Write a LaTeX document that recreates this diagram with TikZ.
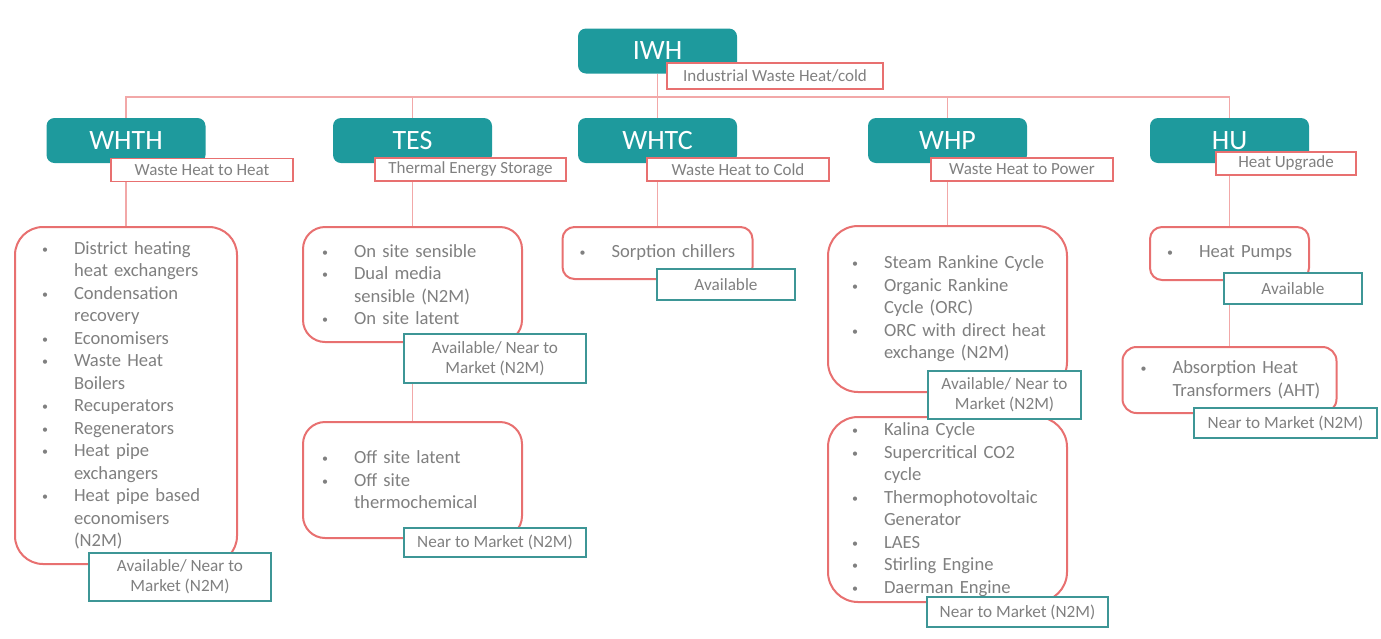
\documentclass[tikz,border=0pt]{standalone}
\usepackage{fontspec}
\setmainfont{Carlito}
\usetikzlibrary{backgrounds}

\definecolor{whteal}{HTML}{1E9A9D}
\definecolor{lred}{HTML}{E87070}
\definecolor{pline}{HTML}{F2A8A8}
\definecolor{steal}{HTML}{3D9696}
\definecolor{txtgray}{HTML}{808080}

% bullet item and continuation line
\newcommand{\bl}[1]{\makebox[16pt][l]{\raisebox{0.5pt}{\fontsize{6}{6}\selectfont\textbullet}}\mbox{#1}}
\newcommand{\ct}[1]{\hspace*{16pt}\mbox{#1}}

\begin{document}
\begin{tikzpicture}[
    x=0.5pt, y=-0.5pt,
    cat/.style={fill=whteal,rounded corners=4pt,text=white,inner sep=0pt,
      minimum width=79.5pt,minimum height=22.5pt,font=\fontsize{14}{16}\selectfont},
    lbl/.style={draw=lred,line width=0.75pt,fill=white,text=txtgray,inner sep=0pt,
      minimum height=11.5pt,font=\fontsize{8.5}{10}\selectfont},
    items/.style={draw=lred,line width=1pt,fill=white,text=txtgray,inner ysep=0pt,
      align=left,font=\fontsize{9.3}{11.25}\selectfont},
    stat/.style={draw=steal,line width=0.75pt,fill=white,text=txtgray,inner sep=0pt,
      minimum width=91pt,align=center,font=\fontsize{8.6}{10}\selectfont},
    conn/.style={draw=pline,line width=0.6pt},
  ]
  \useasboundingbox (0,0) rectangle (1381,638);

  % top level
  \node[cat] (iwh) at (657.5,51) {IWH};
  \node[lbl,minimum width=108pt,minimum height=13pt] (iwhlbl) at (775,76) {Industrial Waste Heat/cold};

  % categories
  \node[cat] (whth) at (126,140.5) {WHTH};
  \node[cat] (tes) at (412.5,140.5) {TES};
  \node[cat] (whtc) at (657.5,140.5) {WHTC};
  \node[cat] (whp) at (947.5,140.5) {WHP};
  \node[cat] (hu) at (1229.5,140.5) {HU};

  \node[lbl,minimum width=91pt] (whthlbl) at (202,170) {Waste Heat to Heat};
  \node[lbl,minimum width=95.5pt] (teslbl) at (470.5,169.5) {Thermal Energy Storage};
  \node[lbl,minimum width=91pt] (whtclbl) at (738,169.5) {Waste Heat to Cold};
  \node[lbl,minimum width=91pt] (whplbl) at (1022,169.5) {Waste Heat to Power};
  \node[lbl,minimum width=70pt] (hulbl) at (1286,163.5) {Heat Upgrade};

  % technologies
  \node[items,rounded corners=14pt,inner xsep=13.5pt,text width=84pt,minimum height=168.5pt]
    (whthitems) at (126,395.5) {\bl{District heating}\\ \ct{heat exchangers}\\ \bl{Condensation}\\
    \ct{recovery}\\ \bl{Economisers}\\ \bl{Waste Heat}\\ \ct{Boilers}\\ \bl{Recuperators}\\
    \bl{Regenerators}\\ \bl{Heat pipe}\\ \ct{exchangers}\\ \bl{Heat pipe based}\\
    \ct{economisers}\\ \ct{(N2M)}};
  \node[items,rounded corners=11pt,inner xsep=9.5pt,text width=90.5pt,minimum height=57.5pt]
    (tesa) at (412.5,284.5) {\bl{On site sensible}\\ \bl{Dual media}\\ \ct{sensible (N2M)}\\ \bl{On site latent}};
  \node[items,rounded corners=11pt,inner xsep=9.5pt,text width=90.5pt,minimum height=58pt]
    (tesb) at (412.5,480) {\bl{Off site latent}\\ \bl{Off site}\\ \ct{thermochemical}};
  \node[items,rounded corners=6pt,inner xsep=8.5pt,text width=78pt,minimum height=26pt]
    (whtcitems) at (657.5,253) {\bl{Sorption chillers}};
  \node[items,rounded corners=15pt,inner xsep=12pt,text width=95.5pt,minimum height=83pt]
    (whpa) at (947.5,309) {\bl{Steam Rankine Cycle}\\ \bl{Organic Rankine}\\ \ct{Cycle (ORC)}\\
    \bl{ORC with direct heat}\\ \ct{exchange (N2M)}};
  \node[items,rounded corners=15pt,inner xsep=12pt,text width=95.5pt,minimum height=92.5pt]
    (whpb) at (947.5,509.5) {\bl{Kalina Cycle}\\ \bl{Supercritical CO2}\\ \ct{cycle}\\
    \bl{Thermophotovoltaic}\\ \ct{Generator}\\ \bl{LAES}\\ \bl{Stirling Engine}\\ \bl{Daerman Engine}};
  \node[items,rounded corners=6pt,inner xsep=8.5pt,text width=62.5pt,minimum height=26.5pt]
    (hua) at (1229.5,253.5) {\bl{Heat Pumps}};
  \node[items,rounded corners=7pt,inner xsep=9pt,text width=89pt,minimum height=33pt]
    (hub) at (1229.5,380) {\bl{Absorption Heat}\\ \ct{Transformers (AHT)}};

  % readiness
  \node[stat,minimum height=24pt] (whthst) at (180,577) {Available/ Near to\\ Market (N2M)};
  \node[stat,minimum height=24.5pt] (tesast) at (495,358.5) {Available/ Near to\\ Market (N2M)};
  \node[stat,minimum height=14.5pt] (tesbst) at (495,542.5) {Near to Market (N2M)};
  \node[stat,minimum width=69pt,minimum height=15.5pt] (whtcst) at (726,284.5) {Available};
  \node[stat,minimum width=76.5pt,minimum height=24pt] (whpast) at (1004.5,395) {Available/ Near to\\ Market (N2M)};
  \node[stat,minimum width=90.5pt,minimum height=15pt] (whpbst) at (1017.5,612) {Near to Market (N2M)};
  \node[stat,minimum width=69pt,minimum height=15.5pt] (huast) at (1293,288.5) {Available};
  \node[stat,minimum width=91.5pt,minimum height=15pt] (hubst) at (1285.5,423) {Near to Market (N2M)};

  \coordinate (bus) at (657.5,97);

  \begin{scope}[on background layer]
    \draw[conn] (iwh) -- (bus);
    \foreach \c in {whth,tes,whtc,whp,hu}
      \draw[conn] (bus) -| (\c.north);
    \draw[conn] (whth) -- (whthitems);
    \draw[conn] (tes) -- (tesa);
    \draw[conn] (tesa) -- (tesb);
    \draw[conn] (whtc) -- (whtcitems);
    \draw[conn] (whp) -- (whpa);
    \draw[conn] (hu) -- (hua);
    \draw[conn] (hua) -- (hub);
  \end{scope}
\end{tikzpicture}
\end{document}
